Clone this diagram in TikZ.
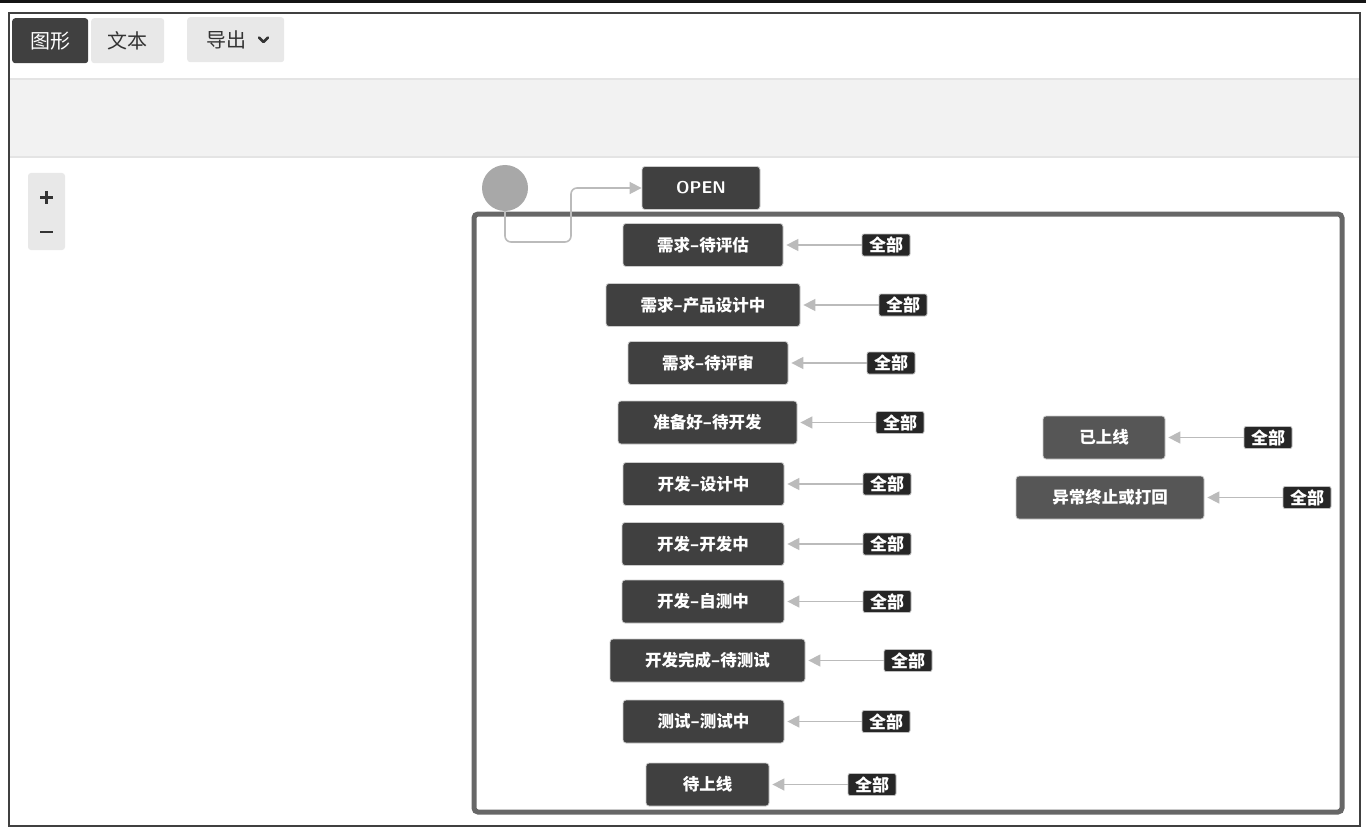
\documentclass[tikz,border=0pt]{standalone}
\usepackage{fontspec}
\newfontfamily\cjk{Noto Sans CJK SC}
\usetikzlibrary{arrows.meta}
\definecolor{nodedark}{HTML}{404040}
\definecolor{nodemid}{HTML}{565656}
\definecolor{tagdark}{HTML}{262626}
\definecolor{btnlight}{HTML}{E8E8E8}
\definecolor{bandgray}{HTML}{F2F2F2}
\definecolor{bandline}{HTML}{E4E4E4}
\definecolor{conngray}{HTML}{BBBBBB}
\definecolor{framegray}{HTML}{676767}
\definecolor{circgray}{HTML}{A8A8A8}
\tikzset{
  state/.style={draw=white!80!black, line width=0.8pt, fill=nodedark, rounded corners=3pt,
    minimum height=43pt, inner sep=0pt, text=white, font=\cjk\bfseries\fontsize{16.5}{19}\selectfont},
  statemid/.style={state, fill=nodemid},
  tag/.style={draw=white!75!black, line width=0.8pt, fill=tagdark, rounded corners=2pt,
    minimum width=48pt, minimum height=22pt, inner sep=0pt, text=white,
    font=\cjk\bfseries\fontsize{17}{19}\selectfont},
  conn/.style={draw=conngray, line width=1.6pt, -{Triangle[length=12pt,width=12pt]}},
  btn/.style={rounded corners=3pt, inner sep=0pt, minimum height=45pt, font=\cjk\fontsize{20}{24}\selectfont}
}
\begin{document}
\begin{tikzpicture}[x=1pt,y=-1pt]
\useasboundingbox (0,0) rectangle (1366,832);
\fill[white] (0,0) rectangle (1366,832);
% top black strip
\fill[black!92] (0,0) rectangle (1366,3);
% outer frame
\draw[black!75, line width=1.5pt] (9,13) rectangle (1360,826);
% toolbar buttons
\node[btn, fill=nodedark, text=white, minimum width=76pt, anchor=north west] (tuxing) at (12,18) {图形};
\node[btn, fill=btnlight, text=black!80, minimum width=73pt, anchor=north west] (wenben) at (91,18) {文本};
\node[btn, fill=btnlight, text=black!80, minimum width=97pt, anchor=north west] (daochu) at (187,17) {\hspace*{-18pt}导出};
\draw[black!80, line width=2.6pt, line cap=round, line join=round] (259,37.5) -- (263.5,42) -- (268,37.5);
% gray band
\fill[bandgray] (10,79) rectangle (1359,157);
\draw[bandline, line width=1.2pt] (10,79) -- (1359,79);
\draw[bandline, line width=1.2pt] (10,157) -- (1359,157);
% zoom control
\fill[btnlight, rounded corners=3pt] (28,173) rectangle (65,250);
\draw[black!80, line width=2.6pt] (40,197.5) -- (53,197.5) (46.5,191) -- (46.5,204);
\draw[black!80, line width=2.6pt] (40,232) -- (53,232);
% container
\draw[framegray, line width=5pt, rounded corners=4pt] (474,214) rectangle (1342,812);
% start circle and OPEN
\node[circle, fill=circgray, minimum size=46pt, inner sep=0pt] (start) at (505,188) {};
\node[state, minimum width=118pt, font=\bfseries\sffamily\fontsize{17}{19}\selectfont] (open) at (701,188) {OPEN};
\draw[conn, rounded corners=6pt] (start.south) -- (505,242) -- (571,242) -- (571,188) -- (open.west);
% left column states
\node[state, minimum width=160pt] (s1) at (703,245) {需求–待评估};
\node[state, minimum width=194pt] (s2) at (703,305) {需求–产品设计中};
\node[state, minimum width=160pt] (s3) at (708,363) {需求–待评审};
\node[state, minimum width=179pt] (s4) at (707.5,422.5) {准备好–待开发};
\node[state, minimum width=161pt] (s5) at (703.5,484) {开发–设计中};
\node[state, minimum width=162pt] (s6) at (703,544) {开发–开发中};
\node[state, minimum width=162pt] (s7) at (703,601.5) {开发–自测中};
\node[state, minimum width=195pt] (s8) at (707.5,660.5) {开发完成–待测试};
\node[state, minimum width=161pt] (s9) at (703.5,721.5) {测试–测试中};
\node[state, minimum width=123pt] (s10) at (707.5,784.5) {待上线};
% right column states
\node[statemid, minimum width=122pt] (s11) at (1104,437.5) {已上线};
\node[statemid, minimum width=188pt] (s12) at (1110,497.5) {异常终止或打回};
% tags
\node[tag] (t1) at (886,245) {全部};
\node[tag] (t2) at (903,305) {全部};
\node[tag] (t3) at (891,363) {全部};
\node[tag] (t4) at (900,422.5) {全部};
\node[tag] (t5) at (887,484) {全部};
\node[tag] (t6) at (887,544) {全部};
\node[tag] (t7) at (887,601.5) {全部};
\node[tag] (t8) at (908,660.5) {全部};
\node[tag] (t9) at (886,721.5) {全部};
\node[tag] (t10) at (872,784.5) {全部};
\node[tag] (t11) at (1268,437.5) {全部};
\node[tag] (t12) at (1307,497.5) {全部};
% arrows
\foreach \i in {1,...,12} {
  \draw[conn, shorten >=3pt] (t\i.west) -- (s\i.east);
}
\end{tikzpicture}
\end{document}
